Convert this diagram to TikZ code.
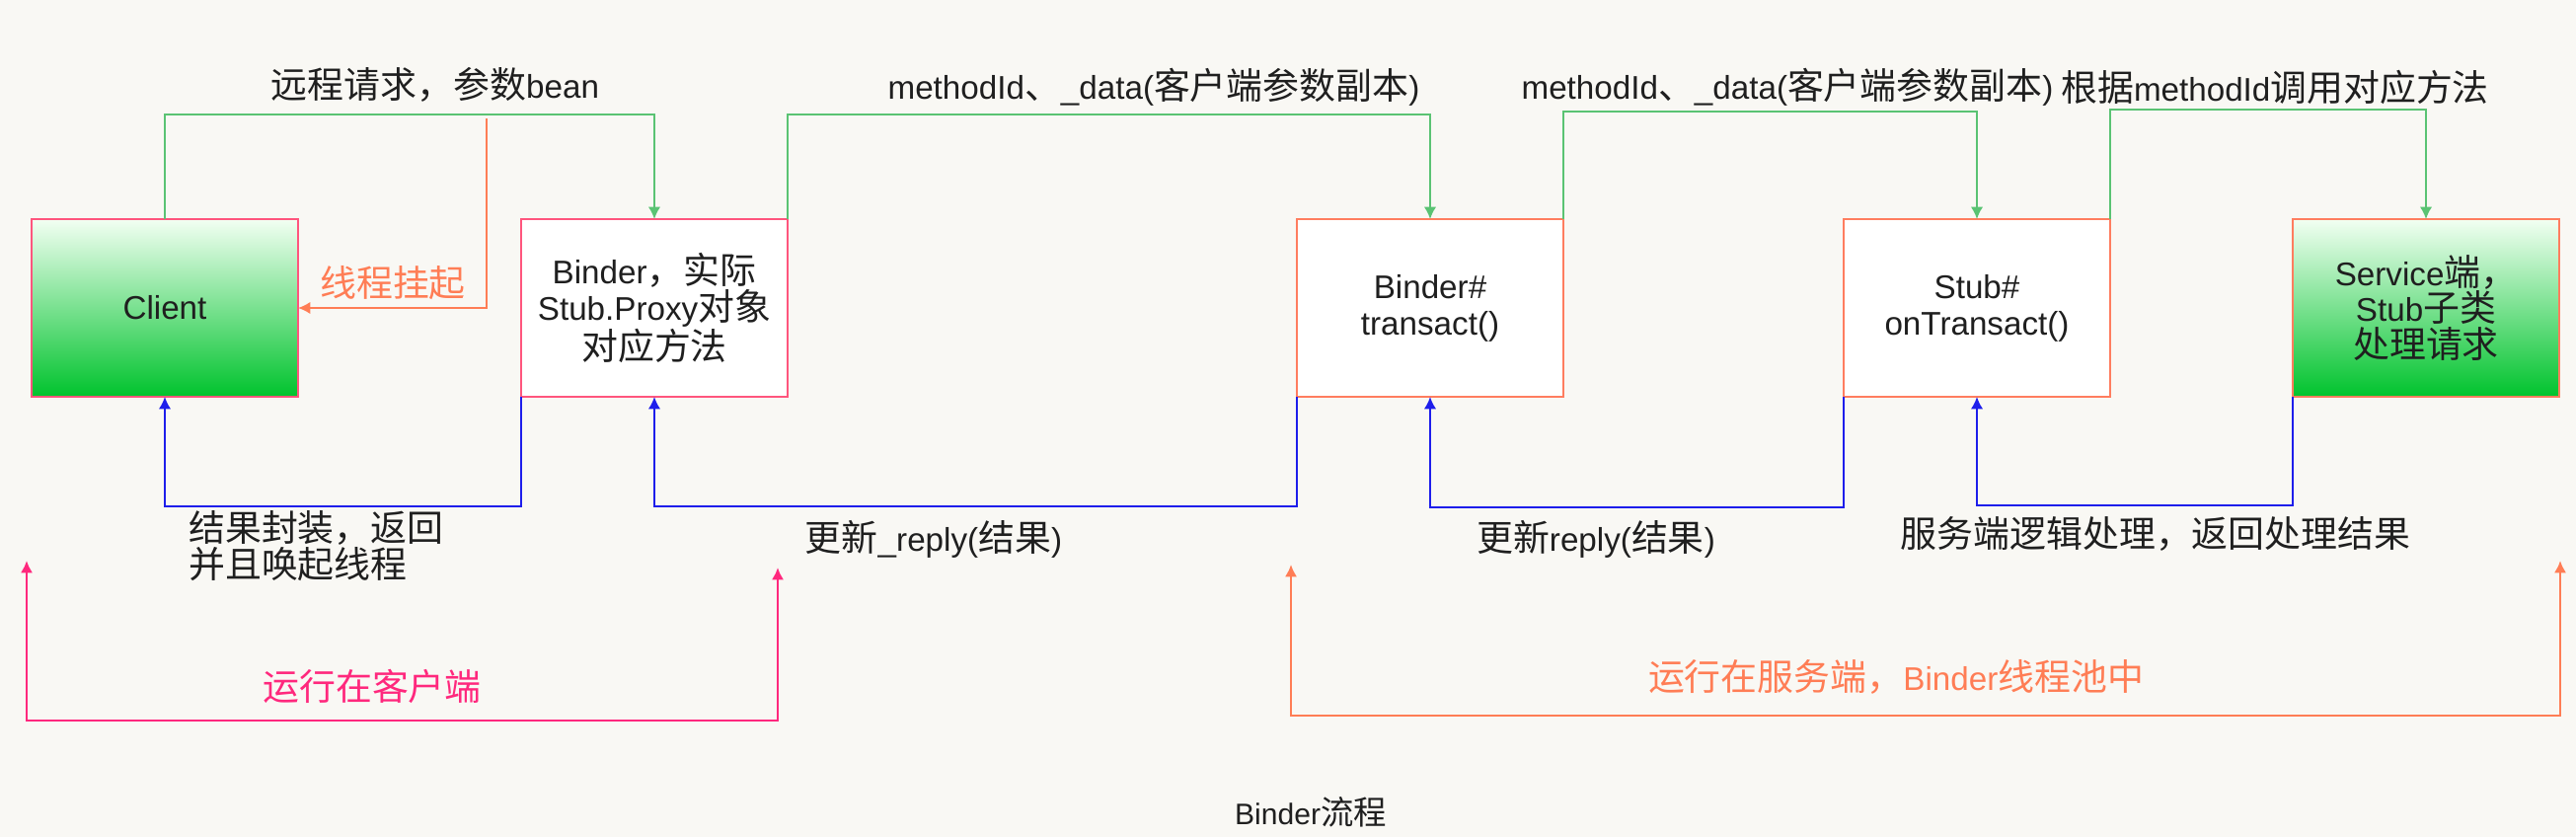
\documentclass[tikz,border=0pt]{standalone}
\usepackage{fontspec}
\setmainfont{Noto Sans CJK SC}
\newfontfamily\latinfont{Liberation Sans}[Scale=0.9]
\newcommand{\lat}[1]{{\latinfont #1}}
\usepackage{tikz}
\usetikzlibrary{arrows.meta}

\definecolor{paper}{RGB}{249,248,244}
\definecolor{callgreen}{RGB}{90,195,115}
\definecolor{replyblue}{RGB}{30,30,235}
\definecolor{hangorange}{RGB}{255,125,85}
\definecolor{boxpink}{RGB}{255,85,125}
\definecolor{boxsalmon}{RGB}{255,125,95}
\definecolor{sidepink}{RGB}{255,40,125}
\definecolor{fillgreen}{RGB}{0,195,45}
\definecolor{midgreen}{RGB}{105,218,120}

\begin{document}
\begin{tikzpicture}[
        x=0.02cm, y=-0.02cm, >={Latex[length=7pt,width=7pt]},
        every node/.style={font=\fontsize{21}{21}\selectfont, text=black!88},
        process/.style={rectangle,draw,fill=white,line width=1.6pt,minimum width=5.4cm,minimum height=3.6cm,outer sep=0pt,align=center},
        endpoint/.style={process,top color=green!5!white,middle color=midgreen,bottom color=fillgreen},
        call/.style={draw=callgreen,line width=1.1pt,->},
        reply/.style={draw=replyblue,line width=1.1pt,->},
        side/.style={line width=1.6pt,<->},
        note/.style={align=left}
    ]

    \fill[paper,use as bounding box] (0,0) rectangle (2610,848);

    \node[endpoint,draw=boxpink] (client) at (167,312) {\lat{Client}};
    \node[process,draw=boxpink] (proxy) at (663,312) {\lat{Binder}，实际\\\lat{Stub.Proxy}对象\\对应方法};
    \node[process,draw=boxsalmon] (transact) at (1449,312) {\lat{Binder\#}\\\lat{transact()}};
    \node[process,draw=boxsalmon] (stub) at (2003,312) {\lat{Stub\#}\\\lat{onTransact()}};
    \node[endpoint,draw=boxsalmon] (service) at (2458,312) {\lat{Service}端，\\\lat{Stub}子类\\处理请求};

    % calls going right
    \draw[call] (client.north) -- (client.north |- 0,116) -| (proxy.north);
    \draw[call] (proxy.north east) -- (proxy.north east |- 0,116) -| (transact.north);
    \draw[call] (transact.north east) -- (transact.north east |- 0,113) -| (stub.north);
    \draw[call] (stub.north east) -- (stub.north east |- 0,111) -| (service.north);

    \node (reqlabel) at (441,86) {远程请求，参数\lat{bean}};
    \node (datalabel) at (1169,88) {\lat{methodId}、\lat{\_data(}客户端参数副本\lat{)}};
    \node (datalabel2) at (1811,88) {\lat{methodId}、\lat{\_data(}客户端参数副本\lat{)}};
    \node (dispatchlabel) at (2305,88) {根据\lat{methodId}调用对应方法};

    \coordinate (hang) at (493,120);
    \draw[draw=hangorange,line width=1.1pt,->] (hang) |- (client.east);
    \node[text=hangorange] (hanglabel) at (398,287) {线程挂起};

    % replies going left
    \draw[reply] (proxy.south west) -- (proxy.south west |- 0,513) -| (client.south);
    \draw[reply] (transact.south west) -- (transact.south west |- 0,513) -| (proxy.south);
    \draw[reply] (stub.south west) -- (stub.south west |- 0,514) -| (transact.south);
    \draw[reply] (service.south west) -- (service.south west |- 0,512) -| (stub.south);

    \node[note,anchor=west] (wrapnote) at (185,553) {结果封装，返回\\并且唤起线程};
    \node (replynote) at (946,546) {更新\lat{\_reply(}结果\lat{)}};
    \node (replynote2) at (1617,546) {更新\lat{reply(}结果\lat{)}};
    \node (servernote) at (2184,541) {服务端逻辑处理，返回处理结果};

    % where it runs
    \coordinate (clienttop) at (27,568);
    \coordinate (clientend) at (788,575);
    \draw[side,draw=sidepink] (clienttop) -- (27,730) -| (clientend);
    \node[text=sidepink] (clientside) at (377,695) {运行在客户端};

    \coordinate (servertop) at (1308,572);
    \coordinate (serverend) at (2594,568);
    \draw[side,draw=hangorange] (servertop) -- (1308,725) -| (serverend);
    \node[text=hangorange] (serverside) at (1921,686) {运行在服务端，\lat{Binder}线程池中};

    \node[font=\fontsize{19}{19}\selectfont] (title) at (1328,823) {\lat{Binder}流程};

\end{tikzpicture}
\end{document}
